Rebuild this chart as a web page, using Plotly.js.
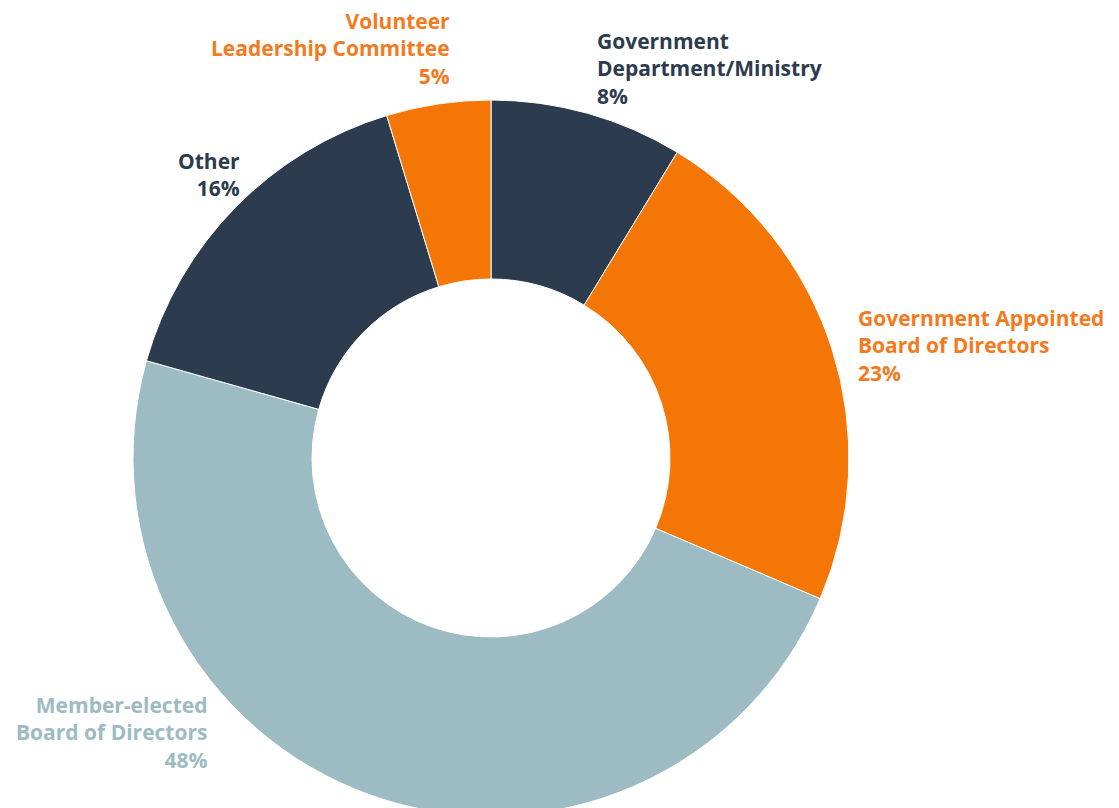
<!DOCTYPE html>
<html>
<head>
<meta charset="utf-8">
<script src="https://cdn.plot.ly/plotly-3.0.1.min.js"></script>
<style>
  html, body { margin: 0; padding: 0; overflow: hidden; background: #ffffff; }
  #chart { width: 1119px; height: 840px; }
</style>
</head>
<body>
<div id="chart"></div>
<script>
// Data
const categories = [
  "Government Department/Ministry",
  "Government Appointed Board of Directors",
  "Member-elected Board of Directors",
  "Other",
  "Volunteer Leadership Committee"
];
const values = [8.7, 22.7, 47.9, 15.9, 4.7];
const shownPercents = ["8%", "23%", "48%", "16%", "5%"];
const labelLines = [
  ["Government", "Department/Ministry"],
  ["Government Appointed", "Board of Directors"],
  ["Member-elected", "Board of Directors"],
  ["Other"],
  ["Volunteer", "Leadership Committee"]
];
const sliceColors = ["#2c3b4d", "#f47606", "#9dbbc3", "#2c3b4d", "#f47606"];
const labelColors = ["#2c3b4d", "#f47a20", "#9dbbc3", "#2c3b4d", "#f47a20"];

// Label placement (pixel positions of the text blocks)
const W = 1119, H = 840;
const labelPos = [
  {x: 595, y: 68, anchor: "left"},
  {x: 856, y: 345, anchor: "left"},
  {x: 210, y: 732, anchor: "right"},
  {x: 242, y: 174.5, anchor: "right"},
  {x: 452, y: 48, anchor: "right"}
];

const annotations = categories.map((c, i) => ({
  xref: "paper", yref: "paper",
  x: labelPos[i].x / W,
  y: (H - labelPos[i].y) / H,
  xanchor: labelPos[i].anchor,
  yanchor: "middle",
  align: labelPos[i].anchor,
  showarrow: false,
  text: labelLines[i].concat([shownPercents[i]]).join("<br>"),
  font: {family: "'Open Sans', Roboto, sans-serif", size: 21, color: labelColors[i], weight: 700}
}));

const trace = {
  type: "pie",
  labels: categories,
  values: values,
  hole: 0.5,
  sort: false,
  direction: "clockwise",
  rotation: 0,
  textinfo: "none",
  hoverinfo: "label+percent",
  marker: {colors: sliceColors, line: {color: "#ffffff", width: 1}},
  domain: {x: [133 / W, 849 / W], y: [(H - 816) / H, (H - 100) / H]},
  showlegend: false
};

const layout = {
  width: W,
  height: H,
  margin: {l: 0, r: 0, t: 0, b: 0},
  paper_bgcolor: "#ffffff",
  plot_bgcolor: "#ffffff",
  showlegend: false,
  annotations: annotations
};

Plotly.newPlot("chart", [trace], layout, {displayModeBar: false, staticPlot: true});
</script>
</body>
</html>
